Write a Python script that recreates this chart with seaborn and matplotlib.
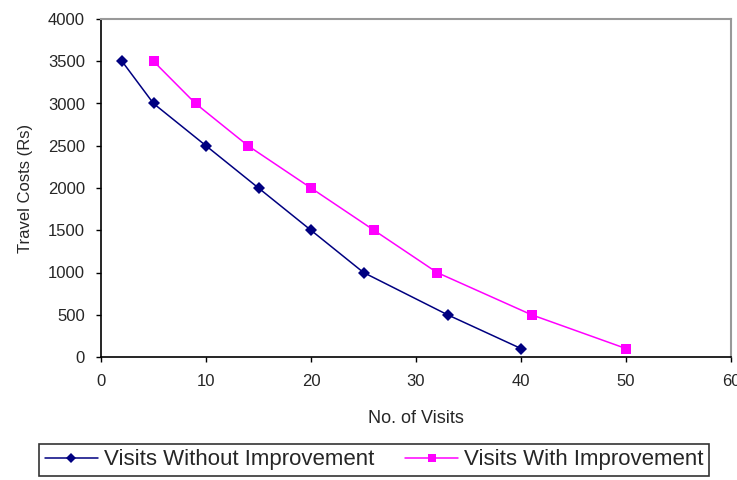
import matplotlib
matplotlib.use("Agg")
import matplotlib.pyplot as plt
import seaborn as sns
import pandas as pd

# Data
visits_without = [2, 5, 10, 15, 20, 25, 33, 40]
costs_without = [3500, 3000, 2500, 2000, 1500, 1000, 500, 100]
visits_with = [5, 9, 14, 20, 26, 32, 41, 50]
costs_with = [3500, 3000, 2500, 2000, 1500, 1000, 500, 100]

df = pd.concat([
    pd.DataFrame({"Visits": visits_without, "Cost": costs_without,
                  "Series": "Visits Without Improvement"}),
    pd.DataFrame({"Visits": visits_with, "Cost": costs_with,
                  "Series": "Visits With Improvement"}),
])

sns.set_style("white")
plt.rcParams["font.family"] = ["Liberation Sans", "DejaVu Sans"]

fig = plt.figure(figsize=(7.37, 4.8), dpi=100)
ax = fig.add_axes([101 / 737, 1 - 357 / 480, 630 / 737, 338 / 480])

sns.lineplot(data=df, x="Visits", y="Cost", hue="Series", style="Series",
             markers={"Visits Without Improvement": "D", "Visits With Improvement": "s"},
             dashes=False, palette={"Visits Without Improvement": "#000080",
                                    "Visits With Improvement": "#FF00FF"},
             markersize=7.5, linewidth=1.1, markeredgewidth=0, ax=ax)
# diamonds a touch smaller than the squares
for line in ax.get_lines():
    if line.get_marker() == "D":
        line.set_markersize(6.5)

ax.set_xlim(0, 60)
ax.set_ylim(0, 4000)
ax.set_xticks(range(0, 61, 10))
ax.set_yticks(range(0, 4001, 500))
ax.tick_params(axis="both", direction="out", length=3.5, width=1, color="black",
               labelsize=12, bottom=True, left=True)
ax.tick_params(axis="x", pad=9)
ax.tick_params(axis="y", pad=8)
for s in ["left", "bottom"]:
    ax.spines[s].set_color("black")
    ax.spines[s].set_linewidth(1.2)
for s in ["top", "right"]:
    ax.spines[s].set_color("#999999")
    ax.spines[s].set_linewidth(1.5)

ax.set_xlabel("No. of Visits", fontsize=13, labelpad=15)
ax.set_ylabel("Travel Costs (Rs)", fontsize=12, labelpad=11)

handles, labels = ax.get_legend_handles_labels()
ax.legend(handles, labels, loc="center", bbox_to_anchor=(374 / 737, 1 - 460 / 480),
          bbox_transform=fig.transFigure, ncol=2, fontsize=16, frameon=True,
          fancybox=False, edgecolor="black", handlelength=2.4, handletextpad=0.25,
          columnspacing=1.4, borderpad=0.25, borderaxespad=0, markerscale=0.8)
ax.get_legend().get_frame().set_linewidth(1.2)

fig.savefig("out.png", dpi=100)
